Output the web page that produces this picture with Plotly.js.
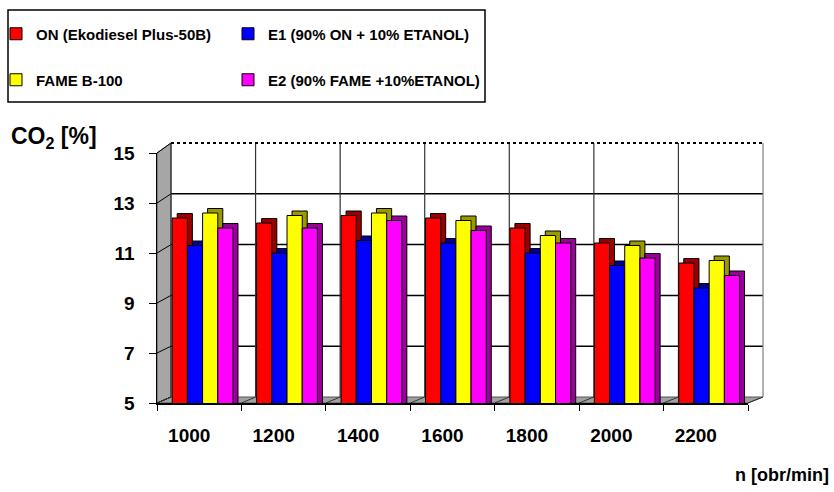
<!DOCTYPE html>
<html>
<head>
<meta charset="utf-8">
<script src="https://cdn.plot.ly/plotly-3.0.1.min.js"></script>
<style>
  html, body { margin: 0; padding: 0; background: #fff; }
  #chart { width: 834px; height: 492px; }
</style>
</head>
<body>
<div id="chart"></div>
<script>
// Engine speed categories and CO2 concentration per fuel
const rpm = ['1000', '1200', '1400', '1600', '1800', '2000', '2200'];
const seriesNames = [
  'ON (Ekodiesel Plus-50B)',
  'E1 (90% ON + 10% ETANOL)',
  'FAME B-100',
  'E2 (90% FAME +10%ETANOL)'
];
const co2On   = [12.4, 12.2, 12.5, 12.4, 12.0, 11.4, 10.6];
const co2E1   = [11.3, 11.0, 11.5, 11.4, 11.0, 10.5, 9.6];
const co2Fame = [12.6, 12.5, 12.6, 12.3, 11.7, 11.3, 10.7];
const co2E2   = [12.0, 12.0, 12.3, 11.9, 11.4, 10.8, 10.1];
const yTicks  = [5, 7, 9, 11, 13, 15];

// ---- styling / geometry ----
const W = 834, H = 492;
const FONT = 'Liberation Sans, Arial, sans-serif';
const faceColors = ['#FF0000', '#0000FF', '#FFFF00', '#FF00FF'];
const depthColors = ['#9A0000', '#00009A', '#9A9A00', '#9A009A'];
const values = [co2On, co2E1, co2Fame, co2E2];
const legendOf = ['legend', 'legend2', 'legend3', 'legend4'];

const front = {x0: 157, x1: 748, y0: 153, y1: 403};  // front axes plane (px)
const wall  = {x0: 171, x1: 763, y0: 143, y1: 397};  // back wall (px)
const barDx = 5, barDy = 4.5;                         // bar depth (px)
const barW = 0.18, barStart = -0.32;                  // bar width / first offset (category units)

const fx = px => px / W;
const fy = py => 1 - py / H;
const yMin = 5, yMax = 15, nCat = rpm.length;
const pxPerCat = (front.x1 - front.x0) / nCat;
const pxPerVal = (front.y1 - front.y0) / (yMax - yMin);
const wallPxPerVal = (wall.y1 - wall.y0) / (yMax - yMin);
const wallPxPerCat = (wall.x1 - wall.x0) / nCat;

const traces = [];
// depth faces (drawn first, shifted up/right)
values.forEach((v, i) => {
  traces.push({
    type: 'bar', x: rpm, y: v, xaxis: 'x', yaxis: 'y',
    width: barW, offset: barStart + i * barW,
    marker: {color: depthColors[i], line: {color: '#000', width: 1}},
    showlegend: false, hoverinfo: 'skip'
  });
});
// front faces
values.forEach((v, i) => {
  traces.push({
    type: 'bar', name: seriesNames[i], x: rpm, y: v, xaxis: 'x2', yaxis: 'y2',
    width: barW, offset: barStart + i * barW,
    marker: {color: faceColors[i], line: {color: '#000', width: 1}},
    legend: legendOf[i]
  });
});

const line = (x0, y0, x1, y1, color, width, dash) => ({
  type: 'line', xref: 'paper', yref: 'paper', layer: 'below',
  x0: fx(x0), y0: fy(y0), x1: fx(x1), y1: fy(y1),
  line: {color: color, width: width, dash: dash || 'solid'}
});

const shapes = [];
// side wall and floor
shapes.push({
  type: 'path', xref: 'paper', yref: 'paper', layer: 'below',
  path: `M${fx(front.x0)},${fy(front.y1)} L${fx(front.x0)},${fy(front.y0)} L${fx(wall.x0)},${fy(wall.y0)} L${fx(wall.x0)},${fy(wall.y1)} Z`,
  fillcolor: '#A6A6A6', line: {color: '#555', width: 1}
});
shapes.push({
  type: 'path', xref: 'paper', yref: 'paper', layer: 'below',
  path: `M${fx(front.x0)},${fy(front.y1)} L${fx(wall.x0)},${fy(wall.y1)} L${fx(wall.x1)},${fy(wall.y1)} L${fx(front.x1)},${fy(front.y1)} Z`,
  fillcolor: '#A0A0A0', line: {color: '#555', width: 1}
});
// horizontal gridlines: across the side wall and along the back wall
yTicks.forEach(t => {
  const yf = front.y1 - (t - yMin) * pxPerVal;
  const yb = wall.y1 - (t - yMin) * wallPxPerVal;
  shapes.push(line(front.x0, yf, wall.x0, yb, '#000', 1));
  if (t > yMin && t < yMax) shapes.push(line(wall.x0, yb, wall.x1, yb, '#000', 1.5));
});
// vertical gridlines on the back wall and category lines on the floor
for (let k = 0; k <= nCat; k++) {
  const xb = wall.x0 + k * wallPxPerCat;
  shapes.push(line(front.x0 + k * pxPerCat, front.y1, xb, wall.y1, '#333', 1));
  shapes.push(line(xb, wall.y1, xb, wall.y0, k === nCat ? '#808080' : '#333', 1.2));
}
// dotted top edge of the back wall
shapes.push(line(wall.x0, wall.y0, wall.x1, wall.y0, '#000', 2, 'dot'));
// legend frame
shapes.push({type: 'rect', xref: 'paper', yref: 'paper',
  x0: fx(8), x1: fx(485), y0: fy(102), y1: fy(10),
  line: {color: '#000', width: 1.5}, fillcolor: 'rgba(0,0,0,0)'});

const tickFont = {family: FONT, size: 19, color: '#000', weight: 'bold'};
const legendFont = {family: FONT, size: 15, color: '#000', weight: 'bold'};
const legendAt = (textLeft, rowY) => ({
  xref: 'paper', yref: 'paper', x: fx(textLeft - 40), xanchor: 'left',
  y: fy(rowY), yanchor: 'middle', font: legendFont,
  bgcolor: 'rgba(0,0,0,0)', borderwidth: 0
});

const layout = {
  width: W, height: H,
  margin: {l: 0, r: 0, t: 0, b: 0, autoexpand: false},
  paper_bgcolor: '#fff', plot_bgcolor: 'rgba(0,0,0,0)',
  barmode: 'overlay',
  font: {family: FONT, color: '#000'},
  showlegend: true,
  // depth faces of the bars
  xaxis: {
    domain: [fx(front.x0), fx(front.x1)], anchor: 'y', type: 'category',
    categoryarray: rpm, categoryorder: 'array',
    range: [-0.5 - barDx / pxPerCat, nCat - 0.5 - barDx / pxPerCat], visible: false, fixedrange: true
  },
  yaxis: {
    domain: [fy(front.y1), fy(front.y0)], anchor: 'x',
    range: [yMin - barDy / pxPerVal, yMax - barDy / pxPerVal], visible: false, fixedrange: true
  },
  // front axes with ticks and labels
  xaxis2: {
    overlaying: 'x', anchor: 'y2', type: 'category',
    categoryarray: rpm, categoryorder: 'array', range: [-0.5, nCat - 0.5],
    showline: true, linecolor: '#000', linewidth: 1.5,
    ticks: 'outside', tickson: 'boundaries', ticklen: 6, tickcolor: '#000', tickwidth: 1,
    tickfont: tickFont, ticklabelstandoff: 15, ticklabelshift: -10,
    showgrid: false, zeroline: false, fixedrange: true
  },
  yaxis2: {
    overlaying: 'y', anchor: 'x2', range: [yMin, yMax], tickvals: yTicks,
    showline: true, linecolor: '#000', linewidth: 1.5,
    ticks: 'outside', ticklen: 7, tickcolor: '#000', tickwidth: 1,
    tickfont: tickFont, ticklabelstandoff: 10, showgrid: false, zeroline: false, fixedrange: true
  },
  legend:  legendAt(36, 34),
  legend2: legendAt(268, 34),
  legend3: legendAt(36, 80),
  legend4: legendAt(268, 80),
  shapes: shapes,
  annotations: [
    {text: 'CO<sub>2</sub> [%]', xref: 'paper', yref: 'paper', x: fx(9), y: fy(137),
     xanchor: 'left', yanchor: 'middle', showarrow: false,
     font: {family: FONT, size: 23, color: '#000', weight: 'bold'}},
    {text: 'n [obr/min]', xref: 'paper', yref: 'paper', x: fx(831), y: fy(475),
     xanchor: 'right', yanchor: 'middle', showarrow: false,
     font: {family: FONT, size: 18, color: '#000', weight: 'bold'}}
  ]
};

Plotly.newPlot('chart', traces, layout, {displayModeBar: false, staticPlot: true});
</script>
</body>
</html>
